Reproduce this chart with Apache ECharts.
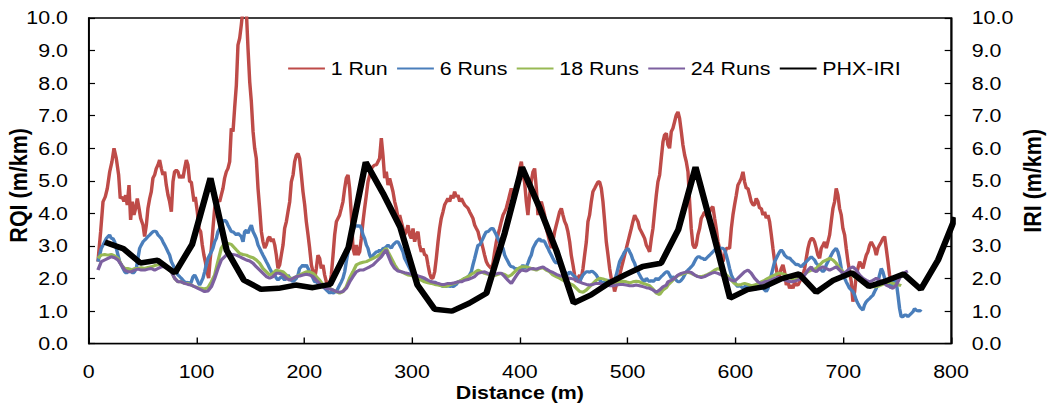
<!DOCTYPE html>
<html><head><meta charset="utf-8">
<script src="https://cdn.jsdelivr.net/npm/echarts@6/dist/echarts.min.js"></script>
<style>
html,body{margin:0;padding:0;background:#fff;overflow:hidden}
#chart{width:912px;height:407px;transform:scaleX(1.15022);transform-origin:0 0}
</style>
</head><body><div id="chart"></div>
<script>
// ---- data (distance m, value m/km) ----
const seriesNames = ['1 Run', '6 Runs', '18 Runs', '24 Runs', 'PHX-IRI'];
const seriesColors = ['#BE4B48', '#4A7EBB', '#98B954', '#7D60A0', '#000000'];

const run1 = [[8.6,2.52],[11.1,3.44],[13.3,4.36],[15.4,4.51],[17.3,4.77],[19.5,5.28],[21.6,5.59],[23.5,6.00],[25.6,5.69],[27.8,5.18],[29.3,4.46],[31.2,4.51],[32.7,4.36],[34.3,4.56],[35.8,4.26],[37.4,4.87],[38.9,3.80],[40.5,4.36],[42.0,3.95],[43.6,4.16],[45.1,4.46],[46.7,4.16],[48.2,3.85],[50.4,3.64],[51.9,3.29],[53.5,3.64],[55.0,4.16],[56.6,4.46],[58.1,4.67],[59.6,5.08],[61.2,5.18],[62.7,5.38],[64.3,5.49],[65.8,5.64],[67.4,5.38],[68.9,5.18],[70.5,5.28],[72.0,4.87],[73.6,4.56],[75.1,4.36],[76.7,4.05],[78.2,4.97],[79.7,5.28],[81.3,5.33],[82.8,5.28],[84.4,5.08],[85.9,5.18],[87.5,5.08],[89.0,5.38],[90.6,5.64],[92.1,5.49],[93.7,4.97],[95.2,4.97],[97.7,4.36],[98.9,4.51],[100.8,4.05],[102.3,3.54],[103.9,3.44],[105.4,3.03],[106.9,2.72],[108.2,2.52],[109.7,2.21],[111.3,2.01],[112.5,2.52],[113.8,2.93],[115.3,3.54],[116.9,4.16],[118.4,4.36],[119.9,4.41],[121.5,4.36],[123.0,4.56],[124.6,4.77],[126.1,5.08],[127.7,5.28],[129.2,5.38],[130.8,5.59],[132.3,6.61],
[133.9,6.51],[135.4,7.23],[137.0,7.94],[138.5,9.17],[140.1,9.38],[141.6,9.79],[143.2,10.3],[144.7,10.3],[146.3,10.2],[147.8,9.07],[149.4,8.04],[150.9,7.43],[152.5,6.51],[154.0,6.00],[155.5,5.69],[157.1,4.77],[158.6,4.16],[160.2,3.44],[161.7,3.13],[163.3,2.93],[164.8,3.03],[166.4,3.23],[167.9,3.29],[169.5,3.13],[171.0,3.23],[172.6,3.03],[174.1,2.72],[175.6,2.31],[177.2,2.42],[178.7,2.72],[180.3,3.03],[181.8,3.54],[183.4,3.75],[184.9,4.05],[186.5,4.36],[188.0,4.97],[189.6,5.18],[191.1,5.59],[192.7,5.79],[194.2,5.84],[195.7,5.69],[197.3,5.18],[198.8,4.67],[200.4,4.26],[201.9,3.75],[203.5,3.34],[205.0,2.93],[206.6,2.42],[208.1,2.21],[209.7,2.01],[211.2,2.31],[212.7,2.72],[214.3,2.62],[215.8,2.31],[217.4,2.42],[218.9,2.11],[220.5,1.90],[222.0,1.80],[223.6,1.80],[225.1,2.11],[226.7,2.72],[228.2,3.34],[229.8,3.75],[231.3,3.85],[232.8,3.95],[234.4,4.16],[235.9,4.36],[237.5,4.77],[239.0,5.08],[240.6,5.18],[242.1,4.77],[243.7,3.95],[245.2,2.93],[246.8,2.72],[248.3,3.03],[249.8,2.72],[251.4,2.82],[252.9,3.23],[254.5,3.75],[256.0,4.16],[257.6,4.56],[259.1,4.97],[260.7,5.18],[262.2,5.38],[263.8,5.44],[265.3,5.49],[266.9,5.49],
[269.9,5.69],[271.5,6.31],[273.0,5.79],[274.6,5.08],[276.1,5.28],[277.7,4.87],[279.2,5.08],[280.8,4.87],[282.3,4.67],[283.9,4.36],[285.4,4.16],[287.0,3.85],[288.5,3.95],[290.0,3.75],[291.6,3.54],[293.1,3.34],[294.7,3.44],[296.2,3.64],[297.8,3.34],[299.3,3.23],[300.9,3.54],[302.4,3.13],[304.0,3.34],[305.5,3.44],[307.0,3.03],[308.6,2.82],[310.1,2.93],[311.7,2.72],[313.2,2.72],[314.8,2.42],[316.3,2.16],[317.9,2.01],[319.4,2.01],[321.0,2.21],[322.5,2.62],[324.1,3.13],[325.6,3.54],[327.1,3.85],[328.7,4.05],[330.2,4.26],[331.8,4.36],[333.3,4.46],[334.9,4.36],[336.4,4.56],[338.0,4.46],[339.5,4.67],[341.1,4.51],[342.6,4.56],[344.2,4.36],[345.7,4.46],[347.2,4.36],[348.8,4.26],[350.3,4.21],[351.9,4.16],[353.4,4.05],[355.0,3.95],[356.5,3.85],[358.1,3.64],[359.6,3.54],[361.2,3.44],[362.7,3.23],[364.3,3.13],[365.8,2.93],[367.3,2.72],[368.9,2.52],[370.4,2.42],[372.0,2.36],[373.5,2.31],[375.1,2.47],[376.6,2.82],[378.2,3.13],[379.7,3.34],[381.3,3.54],[382.8,3.75],[384.4,3.95],[385.9,4.05],[387.4,4.16],[389.0,4.36],[390.5,4.56],[392.1,4.77],[393.6,4.56],[395.2,4.67],[396.7,4.77],[398.3,4.97],[399.8,5.38],[401.4,5.59],
[402.9,5.18],[404.4,4.97],[406.0,4.36],[407.5,3.95],[409.1,4.56],[410.6,4.97],[412.2,5.28],[413.7,5.38],[415.3,4.77],[416.8,3.95],[418.4,4.26],[419.9,4.36],[421.5,4.16],[423.0,3.95],[424.5,3.54],[426.1,3.34],[427.6,3.13],[429.2,2.93],[430.7,3.13],[432.3,3.44],[433.8,3.64],[435.4,3.85],[436.9,4.05],[438.5,4.16],[440.0,3.95],[441.6,3.75],[443.1,3.64],[444.6,3.44],[446.2,3.13],[447.7,2.72],[449.3,2.42],[450.8,2.11],[452.4,1.90],[453.9,2.01],[455.5,2.11],[457.0,2.01],[458.6,2.31],[460.1,2.72],[461.7,3.13],[463.2,3.75],[464.7,3.95],[466.3,4.36],[467.8,4.67],[469.4,4.77],[470.9,4.87],[472.5,4.97],[474.0,4.97],[475.6,4.77],[477.1,4.36],[478.7,3.75],[480.2,3.13],[481.8,2.72],[483.3,2.31],[484.8,2.01],[486.4,1.90],[487.9,1.60],[489.5,1.80],[491.0,2.01],[492.6,2.11],[494.1,2.31],[495.7,2.52],[497.2,2.72],[498.8,2.93],[500.3,3.13],[501.9,3.34],[503.4,3.54],[504.9,3.75],[506.5,3.95],[508.0,3.85],[509.6,3.75],[511.1,3.54],[512.7,3.44],[514.2,3.34],[515.8,3.23],[517.3,3.03],[518.9,2.93],[520.4,2.82],[522.0,3.23],[523.5,3.54],[525.0,4.05],[526.6,4.56],[528.1,4.97],[529.7,5.18],[531.2,5.69],[532.8,6.20],[534.3,6.41],[535.9,6.46],
[537.4,6.10],[538.9,6.00],[540.5,6.51],[542.0,6.61],[543.6,6.82],[545.1,7.02],[546.7,7.12],[548.2,6.92],[549.8,6.51],[551.3,6.10],[552.9,5.79],[554.4,5.59],[556.0,5.28],[557.5,4.36],[559.0,3.54],[560.6,3.03],[562.1,2.93],[563.7,3.03],[565.2,3.34],[566.8,3.54],[568.3,3.85],[569.9,3.95],[571.4,4.05],[573.0,3.95],[574.5,3.85],[576.1,4.05],[577.6,4.16],[579.1,4.21],[580.7,3.85],[582.2,3.54],[583.8,3.13],[585.3,2.93],[586.9,2.72],[588.4,2.52],[590.0,2.72],[591.5,2.93],[593.1,2.93],[594.6,2.93],[596.2,3.54],[597.7,3.95],[599.2,4.26],[600.8,4.56],[602.3,4.87],[603.9,4.97],[605.4,5.08],[607.0,5.28],[608.5,4.97],[610.1,4.77],[611.6,4.77],[613.2,4.56],[614.7,4.36],[616.3,4.26],[617.8,4.26],[619.3,4.46],[620.9,4.36],[622.4,4.16],[624.0,4.16],[625.5,3.95],[627.1,4.05],[628.6,3.85],[630.2,3.95],[631.7,3.75],[633.3,3.34],[634.8,2.93],[636.4,2.52],[637.9,2.31],[639.4,2.01],[641.0,2.11],[642.5,2.31],[644.1,2.42],[645.6,2.21],[647.2,1.80],[648.7,1.90],[650.3,1.70],[651.8,1.80],[653.4,1.70],[654.9,1.90],[656.5,1.80],[658.0,1.80],[659.5,1.90],[661.1,2.01],[662.6,2.11],[664.2,2.31],[665.7,2.62],[667.3,2.93],[668.8,3.13],[670.4,3.23],
[671.9,3.23],[673.4,3.13],[675.0,2.93],[676.5,2.72],[678.1,2.62],[679.6,2.93],[681.2,3.03],[682.7,3.13],[684.3,2.93],[685.8,3.13],[687.4,3.34],[688.9,3.75],[690.5,4.16],[692.0,4.36],[693.5,4.77],[695.1,4.56],[696.6,4.16],[698.2,3.95],[699.7,3.54],[701.3,3.34],[702.8,2.93],[704.4,2.52],[705.9,2.21],[707.5,1.90],[709.0,1.29],[710.6,1.60],[712.1,2.11],[713.6,2.31],[715.2,2.52],[716.7,2.42],[718.3,2.31],[719.8,2.52],[721.4,2.72],[722.9,2.82],[724.5,3.03],[726.0,3.13],[727.6,3.03],[729.1,2.93],[730.7,2.72],[732.2,2.93],[733.7,3.03],[735.3,3.13],[736.8,3.23],[738.4,3.29],[739.9,2.93],[741.5,2.52],[743.0,2.11],[744.6,1.90]];

const run6 = [[8.6,2.52],[10.2,2.72],[11.7,2.93],[13.3,3.03],[14.8,3.13],[16.4,3.23],[17.9,3.29],[19.4,3.34],[21.0,3.23],[22.5,3.23],[24.1,3.13],[25.6,2.93],[27.2,2.72],[28.7,2.52],[30.3,2.42],[31.8,2.31],[33.4,2.21],[34.9,2.16],[36.5,2.21],[38.0,2.31],[39.5,2.21],[41.1,2.16],[42.6,2.21],[44.2,2.31],[45.7,2.62],[47.3,2.93],[48.8,3.03],[50.4,3.13],[51.9,3.18],[53.5,3.23],[55.0,3.29],[56.6,3.34],[58.1,3.39],[59.6,3.44],[61.2,3.46],[62.7,3.44],[64.3,3.34],[65.8,3.29],[67.4,3.23],[68.9,3.13],[70.5,3.03],[72.0,2.93],[73.6,2.82],[75.1,2.72],[76.7,2.52],[78.2,2.42],[79.7,2.31],[81.3,2.21],[82.8,2.11],[84.4,2.06],[85.9,2.01],[87.5,1.95],[89.0,1.90],[90.6,1.85],[92.1,1.90],[93.7,1.80],[95.2,1.90],[96.8,2.06],[98.3,2.11],[99.9,2.01],[101.4,1.90],[102.9,1.80],[104.5,1.90],[106.0,2.01],[107.6,2.21],[109.1,2.42],[110.7,2.62],[112.2,2.72],[113.8,2.82],[115.3,2.93],[116.9,3.13],[118.4,3.23],[119.9,3.44],[121.5,3.54],[123.0,3.64],[124.6,3.75],[126.1,3.80],[127.7,3.75],[129.2,3.64],[130.8,3.54],[132.3,3.44],
[133.9,3.44],[135.4,3.39],[137.0,3.34],[138.5,3.39],[140.1,3.34],[141.6,3.29],[143.2,3.13],[144.7,3.44],[146.3,3.49],[147.8,3.39],[149.4,3.54],[150.9,3.64],[152.5,3.44],[154.0,3.34],[155.5,3.23],[157.1,3.03],[158.6,2.93],[160.2,2.82],[161.7,2.72],[163.3,2.62],[164.8,2.52],[166.4,2.42],[167.9,2.31],[169.5,2.21],[171.0,2.16],[172.6,2.11],[174.1,2.01],[175.6,1.95],[177.2,2.01],[178.7,2.06],[180.3,2.01],[181.8,1.95],[183.4,2.01],[184.9,2.11],[186.5,2.01],[188.0,1.95],[189.6,1.90],[191.1,1.95],[192.7,2.01],[194.2,2.11],[195.7,2.31],[197.3,2.36],[198.8,2.42],[200.4,2.36],[201.9,2.42],[203.5,2.31],[205.0,2.21],[206.6,2.11],[208.1,2.01],[209.7,1.90],[211.2,1.90],[212.7,1.85],[214.3,1.90],[215.8,1.80],[217.4,1.75],[218.9,1.70],[220.5,1.65],[222.0,1.60],[223.6,1.55],[225.1,1.60],[226.7,1.55],[228.2,1.58],[229.8,1.60],[231.3,1.70],[232.8,1.80],[234.4,1.90],[235.9,2.01],[237.5,2.21],[239.0,2.52],[240.6,2.82],[242.1,3.13],[243.7,3.34],[245.2,3.49],[246.8,3.59],[248.3,3.64],[249.8,3.59],[251.4,3.64],[252.9,3.54],[254.5,3.34],[256.0,3.23],[257.6,3.03],[259.1,2.93],[260.7,2.72],[262.2,2.62],[263.8,2.72],[265.3,2.77],[266.9,2.82],
[268.4,2.82],[269.9,2.88],[271.5,2.82],[273.0,2.93],[274.6,2.93],[276.1,2.98],[277.7,3.03],[279.2,2.98],[280.8,2.93],[282.3,3.03],[283.9,3.08],[285.4,3.13],[287.0,3.13],[288.5,3.03],[290.0,2.93],[291.6,2.82],[293.1,2.62],[294.7,2.52],[296.2,2.42],[297.8,2.31],[299.3,2.21],[300.9,2.16],[302.4,2.11],[304.0,2.11],[305.5,2.06],[307.0,2.01],[308.6,2.01],[310.1,1.95],[311.7,1.95],[313.2,1.95],[314.8,1.90],[316.3,1.90],[317.9,1.90],[319.4,1.85],[321.0,1.90],[322.5,1.85],[324.1,1.85],[325.6,1.80],[327.1,1.80],[328.7,1.75],[330.2,1.78],[331.8,1.75],[333.3,1.80],[334.9,1.75],[336.4,1.78],[338.0,1.75],[339.5,1.78],[341.1,1.82],[342.6,1.90],[344.2,1.90],[345.7,1.95],[347.2,1.95],[348.8,2.01],[350.3,1.99],[351.9,2.06],[353.4,2.11],[355.0,2.21],[356.5,2.42],[358.1,2.62],[359.6,2.82],[361.2,3.03],[362.7,3.03],[364.3,3.13],[365.8,3.23],[367.3,3.34],[368.9,3.44],[370.4,3.44],[372.0,3.49],[373.5,3.54],[375.1,3.54],[376.6,3.44],[378.2,3.34],[379.7,3.23],[381.3,3.13],[382.8,3.03],[384.4,2.93],[385.9,2.72],[387.4,2.62],[389.0,2.52],[390.5,2.42],[392.1,2.36],[393.6,2.36],[395.2,2.31],[396.7,2.31],[398.3,2.26],[399.8,2.26],[401.4,2.31],
[402.9,2.42],[404.4,2.31],[406.0,2.36],[407.5,2.47],[409.1,2.62],[410.6,2.72],[412.2,2.93],[413.7,3.03],[415.3,3.13],[416.8,3.18],[418.4,3.23],[419.9,3.13],[421.5,3.18],[423.0,3.13],[424.5,3.03],[426.1,2.93],[427.6,2.82],[429.2,2.72],[430.7,2.62],[432.3,2.52],[433.8,2.47],[435.4,2.52],[436.9,2.42],[438.5,2.31],[440.0,2.26],[441.6,2.21],[443.1,2.16],[444.6,2.11],[446.2,2.21],[447.7,2.16],[449.3,2.11],[450.8,2.06],[452.4,2.01],[453.9,1.90],[455.5,1.90],[457.0,2.01],[458.6,2.11],[460.1,2.16],[461.7,2.21],[463.2,2.21],[464.7,2.19],[466.3,2.23],[467.8,2.21],[469.4,2.16],[470.9,2.11],[472.5,2.01],[474.0,1.95],[475.6,1.90],[477.1,1.85],[478.7,1.90],[480.2,1.95],[481.8,1.95],[483.3,1.92],[484.8,1.90],[486.4,1.90],[487.9,1.95],[489.5,2.11],[491.0,2.31],[492.6,2.52],[494.1,2.62],[495.7,2.72],[497.2,2.82],[498.8,2.88],[500.3,2.93],[501.9,2.82],[503.4,2.72],[504.9,2.57],[506.5,2.47],[508.0,2.31],[509.6,2.21],[511.1,2.11],[512.7,2.01],[514.2,1.95],[515.8,1.90],[517.3,2.01],[518.9,1.95],[520.4,1.90],[522.0,1.95],[523.5,1.90],[525.0,1.95],[526.6,2.01],[528.1,1.95],[529.7,2.01],[531.2,2.06],[532.8,2.11],[534.3,2.16],[535.9,2.21],
[537.4,2.21],[538.9,2.11],[540.5,2.01],[542.0,2.06],[543.6,2.01],[545.1,1.95],[546.7,1.90],[548.2,1.90],[549.8,1.95],[551.3,2.01],[552.9,2.11],[554.4,2.21],[556.0,2.26],[557.5,2.31],[559.0,2.36],[560.6,2.42],[562.1,2.52],[563.7,2.62],[565.2,2.67],[566.8,2.67],[568.3,2.62],[569.9,2.62],[571.4,2.57],[573.0,2.62],[574.5,2.67],[576.1,2.72],[577.6,2.77],[579.1,2.82],[580.7,2.88],[582.2,2.93],[583.8,2.93],[585.3,2.95],[586.9,2.93],[588.4,2.93],[590.0,2.88],[591.5,2.72],[593.1,2.52],[594.6,2.31],[596.2,2.11],[597.7,2.01],[599.2,1.90],[600.8,1.80],[602.3,1.75],[603.9,1.80],[605.4,1.75],[607.0,1.70],[608.5,1.75],[610.1,1.80],[611.6,1.75],[613.2,1.70],[614.7,1.65],[616.3,1.70],[617.8,1.65],[619.3,1.70],[620.9,1.75],[622.4,1.80],[624.0,1.75],[625.5,1.70],[627.1,1.65],[628.6,1.60],[630.2,1.70],[631.7,1.90],[633.3,2.11],[634.8,2.31],[636.4,2.52],[637.9,2.62],[639.4,2.72],[641.0,2.82],[642.5,2.88],[644.1,2.82],[645.6,2.72],[647.2,2.67],[648.7,2.62],[650.3,2.64],[651.8,2.57],[653.4,2.52],[654.9,2.47],[656.5,2.42],[658.0,2.44],[659.5,2.40],[661.1,2.36],[662.6,2.42],[664.2,2.47],[665.7,2.52],[667.3,2.57],[668.8,2.62],[670.4,2.67],
[671.9,2.62],[673.4,2.57],[675.0,2.47],[676.5,2.42],[678.1,2.31],[679.6,2.26],[681.2,2.21],[682.7,2.26],[684.3,2.42],[685.8,2.52],[687.4,2.62],[688.9,2.72],[690.5,2.82],[692.0,2.88],[693.5,2.93],[695.1,2.82],[696.6,2.62],[698.2,2.31],[699.7,2.11],[701.3,2.01],[702.8,1.90],[704.4,1.80],[705.9,1.70],[707.5,1.65],[709.0,1.60],[710.6,1.49],[712.1,1.34],[713.6,1.24],[715.2,1.14],[716.7,1.08],[718.3,1.03],[719.8,1.19],[721.4,1.29],[722.9,1.34],[724.5,1.39],[726.0,1.44],[727.6,1.49],[729.1,1.60],[730.7,1.70],[732.2,1.90],[733.7,2.11],[735.3,2.31],[736.8,2.21],[738.4,2.01],[739.9,1.90],[741.5,1.95],[743.0,1.80],[744.6,1.70],[746.1,1.90],[747.7,2.01],[749.2,1.90],[750.8,1.49],[752.3,1.08],[753.8,0.83],[755.4,0.83],[756.9,0.88],[758.5,0.88],[760.0,0.83],[761.6,0.88],[763.1,0.93],[764.7,0.98],[766.2,1.08],[767.8,1.03],[769.3,1.00],[770.9,1.03],[772.4,0.98]];

const run18 = [[8.6,2.62],[11.7,2.72],[14.8,2.74],[17.9,2.72],[21.0,2.74],[24.1,2.70],[27.2,2.62],[30.3,2.42],[33.4,2.31],[36.5,2.31],[39.5,2.26],[42.6,2.31],[45.7,2.31],[48.8,2.33],[51.9,2.31],[55.0,2.34],[58.1,2.36],[61.2,2.40],[64.3,2.42],[67.4,2.44],[70.5,2.42],[73.6,2.31],[76.7,2.21],[79.7,2.01],[82.8,1.90],[85.9,1.90],[89.0,1.85],[92.1,1.85],[95.2,1.80],[98.3,1.75],[101.4,1.72],[104.5,1.70],[107.6,1.68],[110.7,1.72],[113.8,1.90],[116.9,2.11],[119.9,2.52],[123.0,2.93],[126.1,3.08],[129.2,3.08],[132.3,3.05],
[137.0,2.88],[140.1,2.77],[143.2,2.74],[146.3,2.72],[149.4,2.67],[152.5,2.64],[155.5,2.57],[158.6,2.47],[161.7,2.31],[164.8,2.21],[167.9,2.11],[171.0,2.16],[174.1,2.26],[177.2,2.23],[180.3,2.21],[183.4,2.11],[186.5,2.01],[189.6,2.01],[192.7,2.06],[195.7,2.11],[198.8,2.16],[201.9,2.21],[205.0,2.21],[208.1,2.16],[211.2,2.06],[214.3,1.95],[217.4,1.80],[220.5,1.75],[223.6,1.70],[226.7,1.65],[229.8,1.60],[232.8,1.55],[235.9,1.60],[239.0,1.75],[242.1,2.01],[245.2,2.21],[248.3,2.42],[251.4,2.47],[254.5,2.50],[257.6,2.52],[260.7,2.57],[263.8,2.62],[266.9,2.67],
[271.5,2.77],[274.6,2.88],[276.1,2.93],[277.7,2.82],[280.8,2.62],[283.9,2.42],[287.0,2.26],[290.0,2.21],[293.1,2.16],[296.2,2.11],[299.3,2.09],[302.4,2.06],[305.5,2.01],[308.6,1.95],[311.7,1.90],[314.8,1.87],[317.9,1.85],[321.0,1.82],[324.1,1.80],[327.1,1.78],[330.2,1.75],[333.3,1.78],[336.4,1.82],[339.5,1.85],[342.6,1.90],[345.7,1.95],[348.8,2.01],[351.9,2.06],[355.0,2.13],[358.1,2.19],[361.2,2.26],[364.3,2.21],[367.3,2.16],[370.4,2.13],[373.5,2.11],[376.6,2.09],[379.7,2.13],[382.8,2.16],[385.9,2.13],[389.0,2.06],[392.1,2.11],[395.2,2.21],[398.3,2.31],[401.4,2.36],
[406.0,2.36],[409.1,2.33],[412.2,2.29],[415.3,2.26],[418.4,2.31],[421.5,2.33],[424.5,2.26],[427.6,2.21],[430.7,2.11],[433.8,2.06],[436.9,2.01],[440.0,1.95],[443.1,1.90],[446.2,1.85],[449.3,1.80],[452.4,1.70],[455.5,1.60],[458.6,1.58],[461.7,1.65],[464.7,1.75],[467.8,1.85],[470.9,1.95],[474.0,2.01],[477.1,1.99],[480.2,1.95],[483.3,1.90],[486.4,1.85],[489.5,1.82],[492.6,1.90],[495.7,1.92],[498.8,1.90],[501.9,1.87],[504.9,1.90],[508.0,1.92],[511.1,1.90],[514.2,1.85],[517.3,1.82],[520.4,1.78],[523.5,1.68],[526.6,1.55],[529.7,1.51],[532.8,1.65],[535.9,1.72],
[537.4,1.80],[540.5,1.90],[543.6,2.01],[546.7,2.09],[549.8,2.13],[552.9,2.16],[556.0,2.19],[559.0,2.16],[562.1,2.11],[565.2,2.06],[568.3,2.06],[571.4,2.09],[574.5,2.13],[577.6,2.19],[580.7,2.26],[583.8,2.31],[586.9,2.26],[590.0,2.16],[593.1,2.06],[596.2,1.95],[599.2,1.85],[602.3,1.80],[605.4,1.82],[608.5,1.85],[611.6,1.82],[614.7,1.78],[617.8,1.80],[620.9,1.85],[624.0,1.90],[627.1,1.95],[630.2,2.01],[633.3,2.06],[636.4,2.11],[639.4,2.16],[642.5,2.16],[645.6,2.13],[648.7,2.09],[651.8,2.01],[654.9,1.95],[658.0,2.01],[661.1,2.06],[664.2,2.13],[667.3,2.21],[670.4,2.26],
[675.0,2.31],[678.1,2.42],[681.2,2.52],[684.3,2.57],[687.4,2.62],[690.5,2.57],[693.5,2.47],[696.6,2.31],[699.7,2.21],[702.8,2.16],[705.9,2.13],[709.0,2.09],[712.1,2.01],[715.2,1.95],[718.3,1.90],[721.4,1.85],[724.5,1.80],[727.6,1.75],[730.7,1.75],[733.7,1.78],[736.8,1.82],[739.9,1.85],[743.0,1.90],[746.1,1.85],[749.2,1.82],[752.3,1.80],[753.8,1.78]];

const run24 = [[8.6,2.26],[11.7,2.52],[14.8,2.57],[17.9,2.62],[21.0,2.67],[24.1,2.64],[27.2,2.57],[30.3,2.42],[33.4,2.26],[36.5,2.21],[39.5,2.21],[42.6,2.26],[45.7,2.29],[48.8,2.26],[51.9,2.26],[55.0,2.29],[58.1,2.31],[61.2,2.26],[64.3,2.31],[67.4,2.36],[70.5,2.36],[73.6,2.31],[76.7,2.21],[79.7,2.01],[82.8,1.90],[85.9,1.90],[89.0,1.85],[92.1,1.82],[95.2,1.80],[98.3,1.75],[101.4,1.70],[104.5,1.65],[107.6,1.60],[110.7,1.62],[113.8,1.75],[116.9,2.01],[119.9,2.31],[123.0,2.57],[126.1,2.67],[129.2,2.77],[132.3,2.75],
[137.0,2.72],[140.1,2.67],[143.2,2.62],[146.3,2.57],[149.4,2.54],[152.5,2.47],[155.5,2.36],[158.6,2.26],[161.7,2.16],[164.8,2.06],[167.9,2.01],[171.0,2.06],[174.1,2.16],[177.2,2.16],[180.3,2.11],[183.4,2.01],[186.5,1.95],[189.6,2.01],[192.7,2.06],[195.7,2.08],[198.8,2.11],[201.9,2.13],[205.0,2.11],[208.1,2.06],[211.2,1.95],[214.3,1.85],[217.4,1.75],[220.5,1.70],[223.6,1.68],[226.7,1.65],[229.8,1.60],[232.8,1.58],[235.9,1.60],[239.0,1.70],[242.1,1.90],[245.2,2.06],[248.3,2.21],[251.4,2.26],[254.5,2.26],[257.6,2.31],[260.7,2.36],[263.8,2.42],[266.9,2.52],
[271.5,2.67],[274.6,2.82],[276.1,2.88],[277.7,2.72],[280.8,2.47],[283.9,2.31],[287.0,2.23],[290.0,2.21],[293.1,2.18],[296.2,2.16],[299.3,2.13],[302.4,2.11],[305.5,2.08],[308.6,2.05],[311.7,2.01],[314.8,1.95],[317.9,1.90],[321.0,1.88],[324.1,1.85],[327.1,1.82],[330.2,1.82],[333.3,1.85],[336.4,1.85],[339.5,1.87],[342.6,1.90],[345.7,1.90],[348.8,1.95],[351.9,1.97],[355.0,2.01],[358.1,2.06],[361.2,2.16],[364.3,2.19],[367.3,2.21],[370.4,2.16],[373.5,2.11],[376.6,2.13],[379.7,2.16],[382.8,2.16],[385.9,2.06],[389.0,1.95],[392.1,1.85],[395.2,2.01],[398.3,2.16],[401.4,2.26],
[406.0,2.23],[409.1,2.29],[412.2,2.31],[415.3,2.29],[418.4,2.33],[421.5,2.36],[424.5,2.29],[427.6,2.23],[430.7,2.19],[433.8,2.13],[436.9,2.09],[440.0,2.06],[443.1,2.03],[446.2,2.01],[449.3,1.99],[452.4,1.95],[455.5,1.90],[458.6,1.85],[461.7,1.82],[464.7,1.80],[467.8,1.82],[470.9,1.85],[474.0,1.85],[477.1,1.82],[480.2,1.80],[483.3,1.78],[486.4,1.78],[489.5,1.80],[492.6,1.82],[495.7,1.82],[498.8,1.80],[501.9,1.78],[504.9,1.78],[508.0,1.80],[511.1,1.78],[514.2,1.75],[517.3,1.72],[520.4,1.70],[523.5,1.65],[526.6,1.58],[529.7,1.65],[532.8,1.75],[535.9,1.80],
[537.4,1.90],[540.5,1.95],[543.6,2.01],[546.7,2.11],[549.8,2.16],[552.9,2.19],[556.0,2.21],[559.0,2.19],[562.1,2.11],[565.2,2.06],[568.3,2.03],[571.4,2.06],[574.5,2.11],[577.6,2.16],[580.7,2.19],[583.8,2.16],[586.9,2.11],[590.0,2.06],[593.1,2.01],[596.2,1.95],[599.2,1.92],[602.3,2.01],[605.4,2.11],[608.5,2.21],[611.6,2.26],[614.7,2.16],[617.8,2.01],[620.9,1.90],[624.0,1.85],[627.1,1.90],[630.2,1.92],[633.3,1.95],[636.4,2.01],[639.4,2.03],[642.5,2.01],[645.6,1.95],[648.7,1.92],[651.8,1.90],[654.9,1.92],[658.0,1.95],[661.1,2.01],[664.2,2.11],[667.3,2.26],[670.4,2.36],
[671.9,2.26],[675.0,2.21],[678.1,2.31],[681.2,2.36],[684.3,2.31],[687.4,2.26],[690.5,2.31],[693.5,2.36],[696.6,2.26],[699.7,2.16],[702.8,2.21],[705.9,2.31],[709.0,2.36],[712.1,2.26],[715.2,2.11],[718.3,2.01],[721.4,1.95],[724.5,1.90],[727.6,1.95],[730.7,2.01],[733.7,1.95],[736.8,1.90],[739.9,1.80],[743.0,1.75],[746.1,1.70],[749.2,1.80],[752.3,2.01],[755.4,2.16],[758.5,2.21],[760.0,2.23]];

const phxIri = [[15,3.12],[32,2.92],[48,2.48],[64,2.56],[80,2.17],[96,3.05],[113,5.08],[128,2.87],[144,1.95],[160,1.67],[176,1.70],[192,1.80],[208,1.72],[224,1.82],[241,2.95],[257,5.57],[273,4.62],[289,3.58],[305,1.80],[321,1.06],[337,1.00],[353,1.24],[369,1.55],[386,3.40],[402,5.42],[418,4.20],[434,2.85],[450,1.25],[466,1.50],[482,1.85],[498,2.12],[514,2.37],[531,2.47],[547,3.50],[563,5.42],[579,3.45],[595,1.40],[611,1.66],[627,1.75],[643,2.00],[659,2.14],[675,1.58],[691,1.95],[708,2.18],[724,1.76],[740,1.93],[756,2.14],[772,1.67],[788,2.57],[804,3.88]];

// ---- chart ----
const FONT = "'Liberation Sans', Arial, Helvetica, sans-serif";
const chart = echarts.init(document.getElementById('chart'), null, {renderer: 'svg'});
const seriesData = [run1, run6, run18, run24, phxIri];

function yAxisCfg(pos, name, gap, pad) {
  return {
    type: 'value', position: pos, min: 0, max: 10, interval: 1,
    name: name, nameLocation: 'middle', nameGap: gap, nameRotate: 90, nameMoveOverlap: false,
    nameTextStyle: {fontFamily: FONT, fontSize: 21.5, fontWeight: 'bold', color: '#000', padding: pad},
    axisLine: {show: true, lineStyle: {color: '#000', width: 1.3}},
    axisTick: {show: true, inside: true, length: 5.5, lineStyle: {color: '#000', width: 1.2}},
    axisLabel: {fontFamily: FONT, fontSize: 18.6, color: '#000', margin: 18,
                formatter: v => v.toFixed(1)},
    splitLine: {show: false}
  };
}

chart.setOption({
  animation: false,
  backgroundColor: '#fff',
  grid: {left: 77.1, right: 85.2, top: 18, bottom: 63.3, show: true, containLabel: false,
         outerBoundsMode: 'none',
         borderColor: '#000', borderWidth: 1.3, backgroundColor: 'transparent'},
  legend: {
    data: seriesNames, left: 244.5, top: 54, itemWidth: 32, itemHeight: 14, itemGap: 7.1,
    textStyle: {fontFamily: FONT, fontSize: 18.6, color: '#000'},
    itemStyle: {opacity: 0}
  },
  xAxis: {
    type: 'value', min: 0, max: 800, interval: 100,
    name: 'Distance (m)', nameLocation: 'middle', nameGap: 39.5, nameMoveOverlap: false,
    nameTextStyle: {fontFamily: FONT, fontSize: 18.6, fontWeight: 'bold', color: '#000'},
    axisLine: {show: true, lineStyle: {color: '#000', width: 1.3}},
    axisTick: {show: true, inside: true, length: 6.3, lineStyle: {color: '#000', width: 1.2}},
    axisLabel: {fontFamily: FONT, fontSize: 18.6, color: '#000', margin: 18.5},
    splitLine: {show: false}
  },
  yAxis: [yAxisCfg('left', 'RQI (m/km)', 50.2, [0, 9, 0, 0]),
          yAxisCfg('right', 'IRI (m/km)', 60, [0, 0, 0, 0])],
  series: seriesNames.map((n, i) => ({
    name: n, type: 'line', data: seriesData[i], yAxisIndex: i === 4 ? 1 : 0,
    showSymbol: false, symbol: 'none', clip: true, smooth: false,
    lineStyle: {color: seriesColors[i], width: i === 4 ? 5.5 : 3},
    itemStyle: {color: seriesColors[i]},
    z: 2 + i
  }))
});
</script>
</body></html>
